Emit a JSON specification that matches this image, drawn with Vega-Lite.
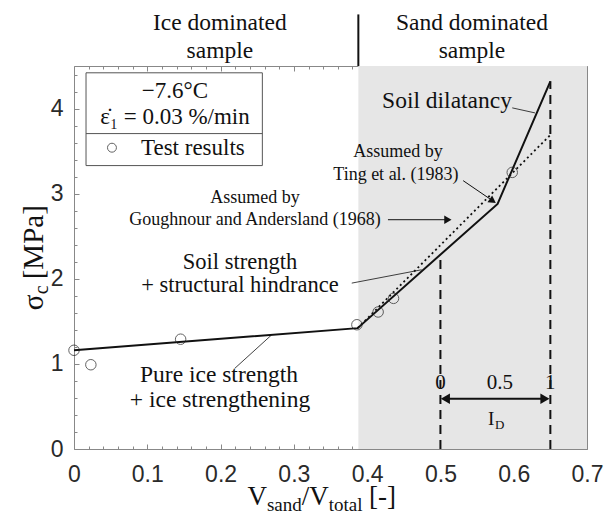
{
  "$schema": "https://vega.github.io/schema/vega-lite/v6.json",
  "width": 513,
  "height": 383,
  "autosize": {"type": "none"},
  "padding": {"left": 74, "top": 66, "right": 20, "bottom": 73},
  "background": "white",
  "config": {"view": {"stroke": null}, "text": {"font": "Liberation Serif", "color": "#111"}},
  "datasets": {
    "shade": [{"x1": 0.388, "x2": 0.7, "y1": 0, "y2": 4.5}],
    "solid": [{"x": 0, "y": 1.16}, {"x": 0.387, "y": 1.42}, {"x": 0.578, "y": 2.88}, {"x": 0.65, "y": 4.32}],
    "dotted": [{"x": 0.387, "y": 1.42}, {"x": 0.65, "y": 3.69}],
    "dashed": [{"x": 0.5, "y": 0, "y2": 2.28}, {"x": 0.65, "y": 0, "y2": 4.32}],
    "tests": [{"x": 0, "y": 1.16}, {"x": 0.023, "y": 0.99}, {"x": 0.1455, "y": 1.29}, {"x": 0.386, "y": 1.46}, {"x": 0.415, "y": 1.61}, {"x": 0.436, "y": 1.77}, {"x": 0.598, "y": 3.25}],
    "divider": [{"x": 0.388, "y": 4.5, "y2": 5.106}],
    "bigText": [
      {"t": "Ice dominated", "x": 0.199, "y": 5.0},
      {"t": "sample", "x": 0.199, "y": 4.68},
      {"t": "Sand dominated", "x": 0.543, "y": 5.0},
      {"t": "sample", "x": 0.543, "y": 4.68},
      {"t": "Soil dilatancy", "x": 0.509, "y": 4.094},
      {"t": "Pure ice strength", "x": 0.1978, "y": 0.871},
      {"t": "+ ice strengthening", "x": 0.1992, "y": 0.576}
    ],
    "midText": [
      {"t": "Soil strength", "x": 0.2265, "y": 2.2},
      {"t": "+ structural hindrance", "x": 0.2265, "y": 1.929}
    ],
    "smallText": [
      {"t": "Assumed by", "x": 0.442, "y": 3.494},
      {"t": "Ting et al. (1983)", "x": 0.4393, "y": 3.224},
      {"t": "Assumed by", "x": 0.247, "y": 2.953},
      {"t": "Goughnour and Andersland (1968)", "x": 0.247, "y": 2.694}
    ],
    "leaders": [
      {"x": 0.598, "y": 4.008, "x2": 0.629, "y2": 3.949},
      {"x": 0.379, "y": 1.949, "x2": 0.4744, "y2": 2.106},
      {"x": 0.2196, "y": 0.949, "x2": 0.2697, "y2": 1.341}
    ],
    "arrows": [
      {"x": 0.531, "y": 3.153, "x2": 0.5715, "y2": 2.915},
      {"x": 0.4284, "y": 2.694, "x2": 0.5102, "y2": 2.694}
    ],
    "idArrow": [{"x": 0.5068, "y": 0.59, "x2": 0.6426, "y2": 0.59}],
    "headsRight": [{"x": 0.5102, "y": 2.694}],
    "idHeadsRight": [{"x": 0.6426, "y": 0.59}],
    "idHeadsLeft": [{"x": 0.5068, "y": 0.59}],
    "headTing": [{"x": 0.5715, "y": 2.915}],
    "legendBox": [{"x1": 0.0164, "x2": 0.257, "y1": 3.33, "y2": 4.42}],
    "legendSep": [{"x1": 0.0164, "x2": 0.257, "y": 3.706}],
    "legendText": [
      {"t": "−7.6°C", "x": 0.1378, "y": 4.21},
      {"t": "ε̇₁ = 0.03 %/min", "x": 0.1378, "y": 3.906}
    ],
    "legendMark": [{"x": 0.0518, "y": 3.54}],
    "legendLabel": [{"t": "Test results", "x": 0.0914, "y": 3.54}],
    "idLabels": [
      {"t": "0", "x": 0.5, "y": 0.776},
      {"t": "0.5", "x": 0.581, "y": 0.776},
      {"t": "1", "x": 0.65, "y": 0.776}
    ],
    "idMain": [{"t": "I", "x": 0.5648, "y": 0.282}],
    "idSub": [{"t": "D", "x": 0.5744, "y": 0.235}],
    "xTitleMain": [
      {"t": "V", "x": 0.2367, "y": -0.659},
      {"t": "/V", "x": 0.3108, "y": -0.659},
      {"t": "[-]", "x": 0.4027, "y": -0.659}
    ],
    "xTitleSub": [
      {"t": "sand", "x": 0.2633, "y": -0.729},
      {"t": "total", "x": 0.3476, "y": -0.729}
    ],
    "yTitleMain": [
      {"t": "σ", "x": -0.0423, "y": 1.629},
      {"t": "[MPa]", "x": -0.0423, "y": 1.994}
    ],
    "yTitleSub": [{"t": "c", "x": -0.0355, "y": 1.818}]
  },
  "resolve": {"scale": {"x": "shared", "y": "shared"}, "axis": {"x": "independent", "y": "independent"}},
  "layer": [
    {
      "data": {"name": "shade"},
      "mark": {"type": "rect", "fill": "#e6e6e6"},
      "encoding": {
        "x": {"field": "x1", "type": "quantitative", "scale": {"domain": [0, 0.7], "nice": false, "zero": false},
          "axis": {"orient": "bottom", "values": [0, 0.1, 0.2, 0.3, 0.4, 0.5, 0.6, 0.7], "format": ".1~f", "ticks": false, "domain": true, "domainColor": "#888", "domainWidth": 1, "labelFont": "Liberation Sans", "labelFontSize": 23, "labelColor": "#2a2a2a", "labelPadding": 14, "title": null, "grid": false, "labelFlush": false, "labelOverlap": false}},
        "x2": {"field": "x2"},
        "y": {"field": "y1", "type": "quantitative", "scale": {"domain": [0, 4.5], "nice": false, "zero": false},
          "axis": {"orient": "left", "values": [0, 1, 2, 3, 4], "ticks": false, "domain": true, "domainColor": "#888", "domainWidth": 1, "labelFont": "Liberation Sans", "labelFontSize": 23, "labelColor": "#2a2a2a", "labelPadding": 11, "title": null, "grid": false, "labelFlush": false, "labelOverlap": false}},
        "y2": {"field": "y2"}
      }
    },
    {
      "data": {"name": "solid"},
      "mark": {"type": "line", "color": "#111", "strokeWidth": 2},
      "encoding": {
        "x": {"field": "x", "type": "quantitative", "scale": {"domain": [0, 0.7], "nice": false, "zero": false},
          "axis": {"orient": "bottom", "values": [0, 0.1, 0.2, 0.3, 0.4, 0.5, 0.6, 0.7], "ticks": true, "tickSize": -5, "tickColor": "#888", "labels": false, "domain": false, "title": null, "grid": false}},
        "y": {"field": "y", "type": "quantitative", "scale": {"domain": [0, 4.5], "nice": false, "zero": false},
          "axis": {"orient": "left", "values": [0, 1, 2, 3, 4], "ticks": true, "tickSize": -5, "tickColor": "#888", "labels": false, "domain": false, "title": null, "grid": false}}
      }
    },
    {
      "data": {"name": "dotted"},
      "mark": {"type": "line", "color": "#111", "strokeWidth": 1.8, "strokeDash": [2, 3]},
      "encoding": {
        "x": {"field": "x", "type": "quantitative", "scale": {"domain": [0, 0.7], "nice": false, "zero": false},
          "axis": {"orient": "bottom", "values": [0.02, 0.04, 0.06, 0.08, 0.12, 0.14, 0.16, 0.18, 0.22, 0.24, 0.26, 0.28, 0.32, 0.34, 0.36, 0.38, 0.42, 0.44, 0.46, 0.48, 0.52, 0.54, 0.56, 0.58, 0.62, 0.64, 0.66, 0.68], "ticks": true, "tickSize": -3, "tickColor": "#888", "labels": false, "domain": false, "title": null, "grid": false}},
        "y": {"field": "y", "type": "quantitative", "scale": {"domain": [0, 4.5], "nice": false, "zero": false},
          "axis": {"orient": "left", "values": [0.2, 0.4, 0.6, 0.8, 1.2, 1.4, 1.6, 1.8, 2.2, 2.4, 2.6, 2.8, 3.2, 3.4, 3.6, 3.8, 4.2, 4.4], "ticks": true, "tickSize": -3, "tickColor": "#888", "labels": false, "domain": false, "title": null, "grid": false}}
      }
    },
    {
      "data": {"name": "dashed"},
      "mark": {"type": "rule", "color": "#111", "strokeWidth": 2, "strokeDash": [9, 6]},
      "encoding": {
        "x": {"field": "x", "type": "quantitative", "scale": {"domain": [0, 0.7], "nice": false, "zero": false},
          "axis": {"orient": "top", "values": [0, 0.1, 0.2, 0.3, 0.4, 0.5, 0.6, 0.7], "ticks": true, "tickSize": -5, "tickColor": "#888", "labels": false, "domain": true, "domainColor": "#888", "domainWidth": 1, "title": null, "grid": false}},
        "y": {"field": "y", "type": "quantitative", "scale": {"domain": [0, 4.5], "nice": false, "zero": false},
          "axis": {"orient": "right", "values": [0, 1, 2, 3, 4], "ticks": true, "tickSize": -5, "tickColor": "#888", "labels": false, "domain": true, "domainColor": "#888", "domainWidth": 1, "title": null, "grid": false}},
        "y2": {"field": "y2"}
      }
    },
    {
      "data": {"name": "tests"},
      "mark": {"type": "point", "shape": "circle", "filled": false, "size": 110, "stroke": "#222", "strokeWidth": 1},
      "encoding": {
        "x": {"field": "x", "type": "quantitative", "scale": {"domain": [0, 0.7], "nice": false, "zero": false},
          "axis": {"orient": "top", "values": [0.02, 0.04, 0.06, 0.08, 0.12, 0.14, 0.16, 0.18, 0.22, 0.24, 0.26, 0.28, 0.32, 0.34, 0.36, 0.38, 0.42, 0.44, 0.46, 0.48, 0.52, 0.54, 0.56, 0.58, 0.62, 0.64, 0.66, 0.68], "ticks": true, "tickSize": -3, "tickColor": "#888", "labels": false, "domain": false, "title": null, "grid": false}},
        "y": {"field": "y", "type": "quantitative", "scale": {"domain": [0, 4.5], "nice": false, "zero": false},
          "axis": {"orient": "right", "values": [0.2, 0.4, 0.6, 0.8, 1.2, 1.4, 1.6, 1.8, 2.2, 2.4, 2.6, 2.8, 3.2, 3.4, 3.6, 3.8, 4.2, 4.4], "ticks": true, "tickSize": -3, "tickColor": "#888", "labels": false, "domain": false, "title": null, "grid": false}}
      }
    },
    {
      "data": {"name": "divider"},
      "mark": {"type": "rule", "color": "#111", "strokeWidth": 2},
      "encoding": {
        "x": {"field": "x", "type": "quantitative", "scale": {"domain": [0, 0.7], "nice": false, "zero": false}, "axis": null},
        "y": {"field": "y", "type": "quantitative", "scale": {"domain": [0, 4.5], "nice": false, "zero": false}, "axis": null},
        "y2": {"field": "y2"}
      }
    },
    {
      "data": {"name": "legendBox"},
      "mark": {"type": "rect", "fill": "white", "stroke": "#555", "strokeWidth": 1},
      "encoding": {
        "x": {"field": "x1", "type": "quantitative", "scale": {"domain": [0, 0.7], "nice": false, "zero": false}, "axis": null},
        "x2": {"field": "x2"},
        "y": {"field": "y1", "type": "quantitative", "scale": {"domain": [0, 4.5], "nice": false, "zero": false}, "axis": null},
        "y2": {"field": "y2"}
      }
    },
    {
      "data": {"name": "legendSep"},
      "mark": {"type": "rule", "color": "#555", "strokeWidth": 1},
      "encoding": {
        "x": {"field": "x1", "type": "quantitative", "scale": {"domain": [0, 0.7], "nice": false, "zero": false}, "axis": null},
        "x2": {"field": "x2"},
        "y": {"field": "y", "type": "quantitative", "scale": {"domain": [0, 4.5], "nice": false, "zero": false}, "axis": null}
      }
    },
    {
      "data": {"name": "legendMark"},
      "mark": {"type": "point", "shape": "circle", "filled": false, "size": 80, "stroke": "#222", "strokeWidth": 1},
      "encoding": {
        "x": {"field": "x", "type": "quantitative", "scale": {"domain": [0, 0.7], "nice": false, "zero": false}, "axis": null},
        "y": {"field": "y", "type": "quantitative", "scale": {"domain": [0, 4.5], "nice": false, "zero": false}, "axis": null}
      }
    },
    {
      "data": {"name": "legendText"},
      "mark": {"type": "text", "fontSize": 23, "align": "center", "baseline": "middle"},
      "encoding": {
        "x": {"field": "x", "type": "quantitative", "scale": {"domain": [0, 0.7], "nice": false, "zero": false}, "axis": null},
        "y": {"field": "y", "type": "quantitative", "scale": {"domain": [0, 4.5], "nice": false, "zero": false}, "axis": null},
        "text": {"field": "t"}
      }
    },
    {
      "data": {"name": "legendLabel"},
      "mark": {"type": "text", "fontSize": 23, "align": "left", "baseline": "middle"},
      "encoding": {
        "x": {"field": "x", "type": "quantitative", "scale": {"domain": [0, 0.7], "nice": false, "zero": false}, "axis": null},
        "y": {"field": "y", "type": "quantitative", "scale": {"domain": [0, 4.5], "nice": false, "zero": false}, "axis": null},
        "text": {"field": "t"}
      }
    },
    {
      "data": {"name": "bigText"},
      "mark": {"type": "text", "fontSize": 23.5, "align": "center", "baseline": "middle"},
      "encoding": {
        "x": {"field": "x", "type": "quantitative", "scale": {"domain": [0, 0.7], "nice": false, "zero": false}, "axis": null},
        "y": {"field": "y", "type": "quantitative", "scale": {"domain": [0, 4.5], "nice": false, "zero": false}, "axis": null},
        "text": {"field": "t"}
      }
    },
    {
      "data": {"name": "midText"},
      "mark": {"type": "text", "fontSize": 22.5, "align": "center", "baseline": "middle"},
      "encoding": {
        "x": {"field": "x", "type": "quantitative", "scale": {"domain": [0, 0.7], "nice": false, "zero": false}, "axis": null},
        "y": {"field": "y", "type": "quantitative", "scale": {"domain": [0, 4.5], "nice": false, "zero": false}, "axis": null},
        "text": {"field": "t"}
      }
    },
    {
      "data": {"name": "smallText"},
      "mark": {"type": "text", "fontSize": 18, "align": "center", "baseline": "middle"},
      "encoding": {
        "x": {"field": "x", "type": "quantitative", "scale": {"domain": [0, 0.7], "nice": false, "zero": false}, "axis": null},
        "y": {"field": "y", "type": "quantitative", "scale": {"domain": [0, 4.5], "nice": false, "zero": false}, "axis": null},
        "text": {"field": "t"}
      }
    },
    {
      "data": {"name": "leaders"},
      "mark": {"type": "rule", "color": "#111", "strokeWidth": 0.8},
      "encoding": {
        "x": {"field": "x", "type": "quantitative", "scale": {"domain": [0, 0.7], "nice": false, "zero": false}, "axis": null},
        "y": {"field": "y", "type": "quantitative", "scale": {"domain": [0, 4.5], "nice": false, "zero": false}, "axis": null},
        "x2": {"field": "x2"},
        "y2": {"field": "y2"}
      }
    },
    {
      "data": {"name": "arrows"},
      "mark": {"type": "rule", "color": "#111", "strokeWidth": 1},
      "encoding": {
        "x": {"field": "x", "type": "quantitative", "scale": {"domain": [0, 0.7], "nice": false, "zero": false}, "axis": null},
        "y": {"field": "y", "type": "quantitative", "scale": {"domain": [0, 4.5], "nice": false, "zero": false}, "axis": null},
        "x2": {"field": "x2"},
        "y2": {"field": "y2"}
      }
    },
    {
      "data": {"name": "idArrow"},
      "mark": {"type": "rule", "color": "#111", "strokeWidth": 2},
      "encoding": {
        "x": {"field": "x", "type": "quantitative", "scale": {"domain": [0, 0.7], "nice": false, "zero": false}, "axis": null},
        "y": {"field": "y", "type": "quantitative", "scale": {"domain": [0, 4.5], "nice": false, "zero": false}, "axis": null},
        "x2": {"field": "x2"},
        "y2": {"field": "y2"}
      }
    },
    {
      "data": {"name": "headsRight"},
      "mark": {"type": "point", "shape": "triangle-right", "filled": true, "color": "#111", "size": 70, "opacity": 1},
      "encoding": {
        "x": {"field": "x", "type": "quantitative", "scale": {"domain": [0, 0.7], "nice": false, "zero": false}, "axis": null},
        "y": {"field": "y", "type": "quantitative", "scale": {"domain": [0, 4.5], "nice": false, "zero": false}, "axis": null}
      }
    },
    {
      "data": {"name": "headTing"},
      "mark": {"type": "point", "shape": "triangle-right", "filled": true, "color": "#111", "size": 70, "opacity": 1, "angle": 34},
      "encoding": {
        "x": {"field": "x", "type": "quantitative", "scale": {"domain": [0, 0.7], "nice": false, "zero": false}, "axis": null},
        "y": {"field": "y", "type": "quantitative", "scale": {"domain": [0, 4.5], "nice": false, "zero": false}, "axis": null}
      }
    },
    {
      "data": {"name": "idHeadsRight"},
      "mark": {"type": "point", "shape": "triangle-right", "filled": true, "color": "#111", "size": 110, "opacity": 1},
      "encoding": {
        "x": {"field": "x", "type": "quantitative", "scale": {"domain": [0, 0.7], "nice": false, "zero": false}, "axis": null},
        "y": {"field": "y", "type": "quantitative", "scale": {"domain": [0, 4.5], "nice": false, "zero": false}, "axis": null}
      }
    },
    {
      "data": {"name": "idHeadsLeft"},
      "mark": {"type": "point", "shape": "triangle-left", "filled": true, "color": "#111", "size": 110, "opacity": 1},
      "encoding": {
        "x": {"field": "x", "type": "quantitative", "scale": {"domain": [0, 0.7], "nice": false, "zero": false}, "axis": null},
        "y": {"field": "y", "type": "quantitative", "scale": {"domain": [0, 4.5], "nice": false, "zero": false}, "axis": null}
      }
    },
    {
      "data": {"name": "idLabels"},
      "mark": {"type": "text", "fontSize": 21, "align": "center", "baseline": "middle"},
      "encoding": {
        "x": {"field": "x", "type": "quantitative", "scale": {"domain": [0, 0.7], "nice": false, "zero": false}, "axis": null},
        "y": {"field": "y", "type": "quantitative", "scale": {"domain": [0, 4.5], "nice": false, "zero": false}, "axis": null},
        "text": {"field": "t"}
      }
    },
    {
      "data": {"name": "idMain"},
      "mark": {"type": "text", "fontSize": 19, "align": "left", "baseline": "alphabetic"},
      "encoding": {
        "x": {"field": "x", "type": "quantitative", "scale": {"domain": [0, 0.7], "nice": false, "zero": false}, "axis": null},
        "y": {"field": "y", "type": "quantitative", "scale": {"domain": [0, 4.5], "nice": false, "zero": false}, "axis": null},
        "text": {"field": "t"}
      }
    },
    {
      "data": {"name": "idSub"},
      "mark": {"type": "text", "fontSize": 13, "align": "left", "baseline": "alphabetic"},
      "encoding": {
        "x": {"field": "x", "type": "quantitative", "scale": {"domain": [0, 0.7], "nice": false, "zero": false}, "axis": null},
        "y": {"field": "y", "type": "quantitative", "scale": {"domain": [0, 4.5], "nice": false, "zero": false}, "axis": null},
        "text": {"field": "t"}
      }
    },
    {
      "data": {"name": "xTitleMain"},
      "mark": {"type": "text", "fontSize": 27, "align": "left", "baseline": "alphabetic"},
      "encoding": {
        "x": {"field": "x", "type": "quantitative", "scale": {"domain": [0, 0.7], "nice": false, "zero": false}, "axis": null},
        "y": {"field": "y", "type": "quantitative", "scale": {"domain": [0, 4.5], "nice": false, "zero": false}, "axis": null},
        "text": {"field": "t"}
      }
    },
    {
      "data": {"name": "xTitleSub"},
      "mark": {"type": "text", "fontSize": 19, "align": "left", "baseline": "alphabetic"},
      "encoding": {
        "x": {"field": "x", "type": "quantitative", "scale": {"domain": [0, 0.7], "nice": false, "zero": false}, "axis": null},
        "y": {"field": "y", "type": "quantitative", "scale": {"domain": [0, 4.5], "nice": false, "zero": false}, "axis": null},
        "text": {"field": "t"}
      }
    },
    {
      "data": {"name": "yTitleMain"},
      "mark": {"type": "text", "fontSize": 29, "align": "left", "baseline": "alphabetic", "angle": 270},
      "encoding": {
        "x": {"field": "x", "type": "quantitative", "scale": {"domain": [0, 0.7], "nice": false, "zero": false}, "axis": null},
        "y": {"field": "y", "type": "quantitative", "scale": {"domain": [0, 4.5], "nice": false, "zero": false}, "axis": null},
        "text": {"field": "t"}
      }
    },
    {
      "data": {"name": "yTitleSub"},
      "mark": {"type": "text", "fontSize": 20, "align": "left", "baseline": "alphabetic", "angle": 270},
      "encoding": {
        "x": {"field": "x", "type": "quantitative", "scale": {"domain": [0, 0.7], "nice": false, "zero": false}, "axis": null},
        "y": {"field": "y", "type": "quantitative", "scale": {"domain": [0, 4.5], "nice": false, "zero": false}, "axis": null},
        "text": {"field": "t"}
      }
    }
  ]
}
